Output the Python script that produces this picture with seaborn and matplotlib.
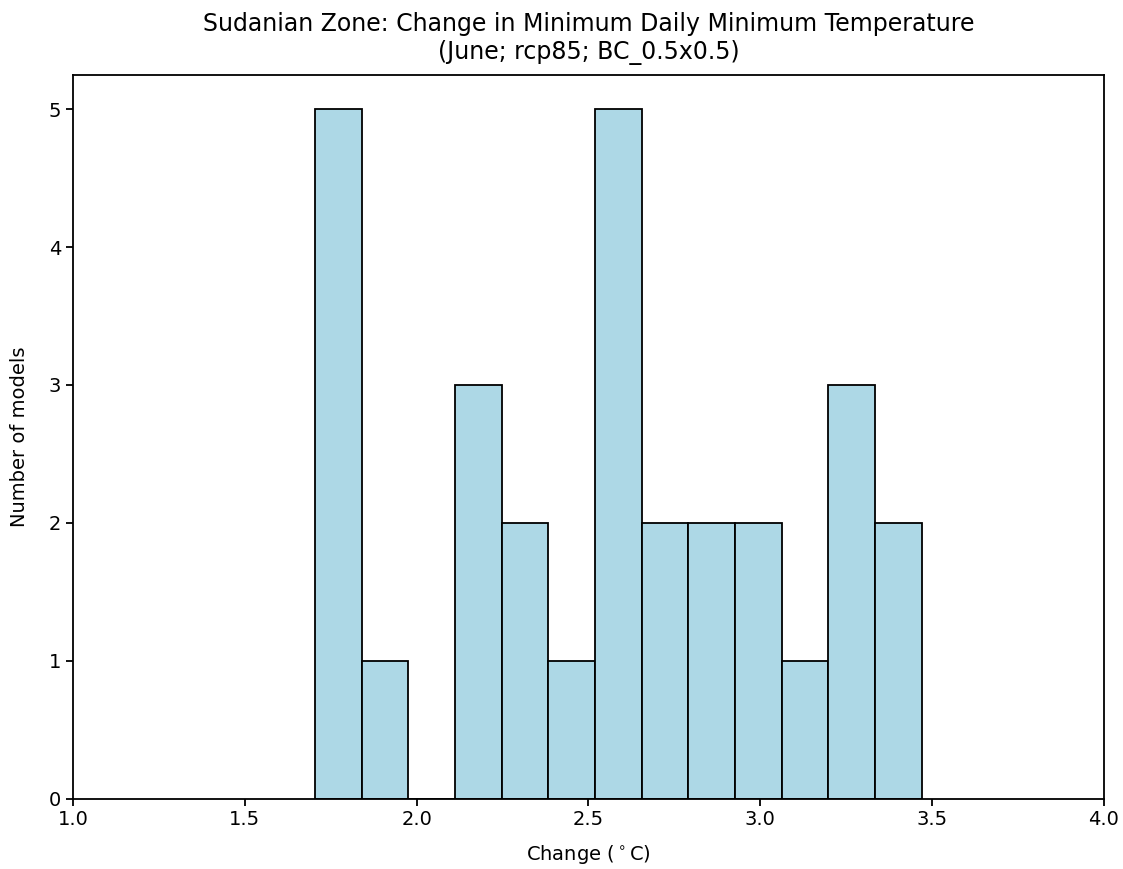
#!/usr/bin/env python3

import numpy as np
import pandas as pd
import matplotlib
matplotlib.use("Agg")
import matplotlib.pyplot as plt
import seaborn as sns

# histogram: 13 bins between ~1.704 and ~3.470
bin_start = 1.704
bin_stop = 3.470
counts = [5, 1, 0, 3, 2, 1, 5, 2, 2, 2, 1, 3, 2]
yticks = [0, 1, 2, 3, 4, 5]
xticks = [1.0, 1.5, 2.0, 2.5, 3.0, 3.5, 4.0]

title = "Sudanian Zone: Change in Minimum Daily Minimum Temperature\n(June; rcp85; BC_0.5x0.5)"


def main():
    sns.set_style("ticks", {"text.color": "black", "axes.labelcolor": "black",
                            "xtick.color": "black", "ytick.color": "black",
                            "axes.edgecolor": "black"})
    plt.rcParams["font.family"] = ["DejaVu Sans"]

    edges = np.linspace(bin_start, bin_stop, len(counts) + 1)
    centers = (edges[:-1] + edges[1:]) / 2
    df = pd.DataFrame({"change": centers, "n": counts})

    fig = plt.figure(figsize=(11.23, 8.69), dpi=100)
    ax = fig.add_axes([0.065, 0.081, 0.918, 0.833])

    sns.histplot(data=df, x="change", weights="n", bins=list(edges),
                 color="lightblue", edgecolor="black", linewidth=1.3,
                 alpha=1.0, ax=ax)

    ax.set_xlim(1.0, 4.0)
    ax.set_ylim(0, 5.25)
    ax.set_xticks(xticks)
    ax.set_yticks(yticks)
    ax.tick_params(labelsize=14, colors="black", length=5, width=1.3)
    ax.set_xlabel(r"Change ($^\circ$C)", fontsize=14, color="black", labelpad=10)
    ax.set_ylabel("Number of models", fontsize=14, color="black", labelpad=14)
    ax.set_title(title, fontsize=17, color="black", pad=11, linespacing=1.25)
    for s in ax.spines.values():
        s.set_visible(True)
        s.set_color("black")
        s.set_linewidth(1.3)

    fig.savefig("out.png", dpi=100)


if __name__ == "__main__":
    main()
